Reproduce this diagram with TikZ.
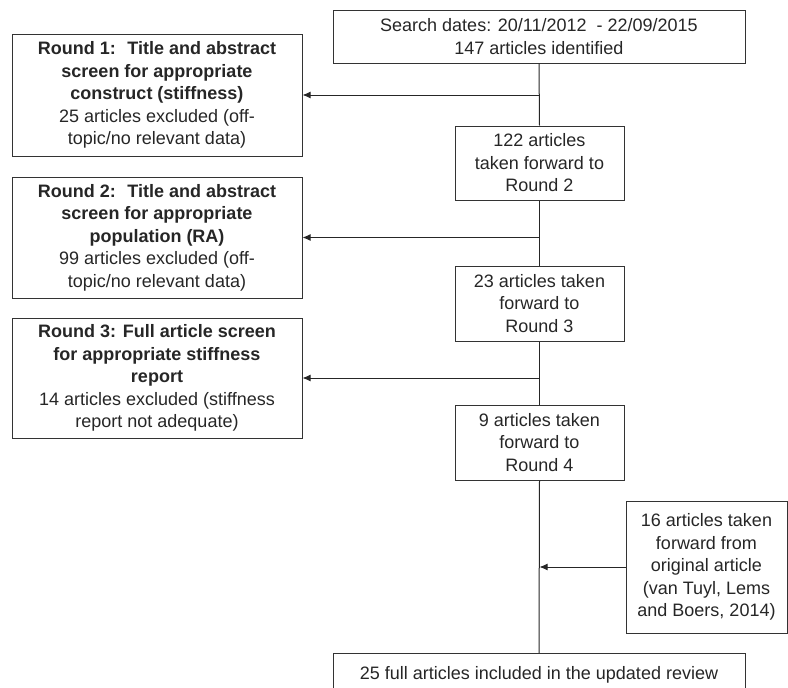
\documentclass[tikz,border=0pt]{standalone}
\usepackage{fontspec}
\setmainfont{Liberation Sans}
\usetikzlibrary{arrows.meta}
\begin{document}
\begin{tikzpicture}[x=1pt,y=-1pt,
  box/.style={draw=black!80, line width=1pt, align=center, inner sep=2pt,
    font=\fontsize{18}{22.5}\selectfont, text=black!85},
  link/.style={draw=black!85, line width=1pt},
  arr/.style={link, -{Latex[length=8pt,width=7pt]}}]
\useasboundingbox (0,0) rectangle (788,688);
\node[box, minimum width=412pt, minimum height=53pt] (top) at (539,36.5)
  {Search dates: 20/11/2012~ - 22/09/2015\\147 articles identified};
\node[box, minimum width=290pt, minimum height=122pt] (r1) at (157,95)
  {\textbf{Round 1:~ Title and abstract}\\\textbf{screen for appropriate}\\\textbf{construct (stiffness)}\\25 articles excluded (off-\\topic/no relevant data)};
\node[box, minimum width=169pt, minimum height=74pt] (n122) at (539.5,163)
  {122 articles\\taken forward to\\Round 2};
\node[box, minimum width=290pt, minimum height=121pt] (r2) at (157,237.5)
  {\textbf{Round 2:~ Title and abstract}\\\textbf{screen for appropriate}\\\textbf{population (RA)}\\99 articles excluded (off-\\topic/no relevant data)};
\node[box, minimum width=169pt, minimum height=75pt] (n23) at (539.5,303.5)
  {23 articles taken\\forward to\\Round 3};
\node[box, minimum width=290pt, minimum height=120pt] (r3) at (157,378)
  {\textbf{Round 3: Full article screen}\\\textbf{for appropriate stiffness}\\\textbf{report}\\14 articles excluded (stiffness\\report not adequate)};
\node[box, minimum width=169pt, minimum height=75pt] (n9) at (539.5,442.5)
  {9 articles taken\\forward to\\Round 4};
\node[box, minimum width=161pt, minimum height=132pt] (n16) at (706.5,567)
  {16 articles taken\\forward from\\original article\\(van Tuyl, Lems\\and Boers, 2014)};
\node[box, anchor=north, minimum width=412pt, minimum height=62pt, inner sep=6pt] (fin) at (539,653)
  {25 full articles included in the updated review\\\mbox{}};
\draw[link] (top.south) -- (n122.north);
\draw[link] (n122.south) -- (n23.north);
\draw[link] (n23.south) -- (n9.north);
\draw[link] (n9.south) -- (fin.north);
\draw[arr] (top.south |- r1.east) -- (r1.east);
\draw[arr] (n122.south |- r2.east) -- (r2.east);
\draw[arr] (n23.south |- r3.east) -- (r3.east);
\draw[arr] (n16.west) -- (n9.south |- n16.west);
\end{tikzpicture}
\end{document}
